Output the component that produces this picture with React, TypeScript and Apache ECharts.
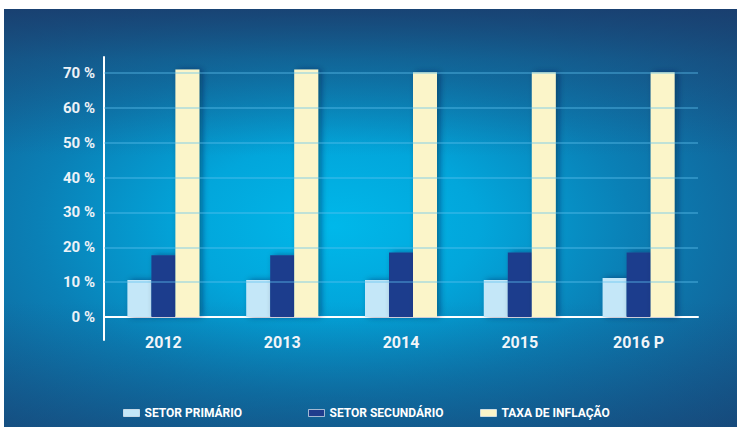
import React, { useEffect, useRef } from 'react';
import * as echarts from 'echarts';

const categories = ['2012', '2013', '2014', '2015', '2016 P'];
const seriesNames = ['SETOR PRIMÁRIO', 'SETOR SECUNDÁRIO', 'TAXA DE INFLAÇÃO'];
const setorPrimario = [10.6, 10.6, 10.6, 10.6, 11.2];
const setorSecundario = [17.7, 17.7, 18.5, 18.5, 18.5];
const taxaInflacao = [71.0, 71.0, 70.2, 70.2, 70.2];
const gridTicks = [10, 20, 30, 40, 50, 60, 70];

const seriesColors = ['#c4e7f8', '#1f3d8d', '#fbf5c9'];
const FONT = "Roboto, 'Liberation Sans', sans-serif";

export default function App() {
  const ref = useRef<HTMLDivElement>(null);
  useEffect(() => {
    document.body.style.margin = '0';
    const chart = echarts.init(ref.current!, null, { renderer: 'svg' });
    const values = [setorPrimario, setorSecundario, taxaInflacao];
    const legendLeft = [118, 303, 475];
    const option: any = {
      animation: false,
      backgroundColor: '#ffffff',
      graphic: [
        {
          type: 'rect',
          z: -10,
          silent: true,
          shape: { x: 4, y: 9, width: 733, height: 418 },
          style: {
            fill: new echarts.graphic.RadialGradient(0.45, 0.52, 0.9, [
              { offset: 0, color: '#00b8ea' },
              { offset: 0.22, color: '#02a6db' },
              { offset: 0.45, color: '#0a80b6' },
              { offset: 0.68, color: '#126398' },
              { offset: 1, color: '#1a3d6d' },
            ]),
          },
        },
        {
          type: 'rect',
          z: -9,
          silent: true,
          shape: { x: 4, y: 9, width: 733, height: 418 },
          style: {
            fill: new echarts.graphic.LinearGradient(0, 0, 0, 1, [
              { offset: 0, color: 'rgba(26,60,108,0.85)' },
              { offset: 0.12, color: 'rgba(26,66,112,0.45)' },
              { offset: 0.35, color: 'rgba(26,66,112,0)' },
              { offset: 0.7, color: 'rgba(20,70,120,0)' },
              { offset: 1, color: 'rgba(24,62,110,0.45)' },
            ]),
          },
        },
      ],
      grid: { left: 104, right: 39, top: 57, bottom: 88, containLabel: false },
      legend: seriesNames.map((n, i) => ({
        data: [n],
        left: legendLeft[i],
        top: 402,
        icon: 'rect',
        itemWidth: 16,
        itemHeight: 7,
        itemStyle: { borderColor: 'rgba(255,255,255,0.6)', borderWidth: 1 },
        textStyle: { color: '#ffffff', fontSize: 12, fontWeight: 'bold', fontFamily: FONT },
      })),
      xAxis: {
        type: 'category',
        data: categories,
        axisLine: { show: true, onZero: true, lineStyle: { color: '#ffffff', width: 2 } },
        axisTick: { show: false },
        axisLabel: { color: '#f2f5f9', fontSize: 16, fontWeight: 'bold', fontFamily: FONT, margin: -6 },
        splitLine: { show: false },
      },
      yAxis: {
        type: 'value',
        min: -6.6,
        max: 74.6,
        splitNumber: 8,
        axisLine: { show: true, lineStyle: { color: '#ffffff', width: 2 } },
        axisTick: { show: false },
        splitLine: { show: false },
        axisLabel: {
          color: '#eef2f7',
          fontSize: 15,
          fontWeight: 'bold',
          fontFamily: FONT,
          margin: 9,
          showMinLabel: false,
          showMaxLabel: false,
          formatter: (v: number) => {
            const r = Math.round(v);
            return Math.abs(v - r) < 1e-6 && r % 10 === 0 && r >= 0 && r <= 70 ? `${r} %` : '';
          },
        },
      },
      series: [
        {
          type: 'line',
          name: '__grid',
          data: [],
          z: 1,
          silent: true,
          markLine: {
            silent: true,
            symbol: 'none',
            label: { show: false },
            lineStyle: { color: 'rgba(95,195,240,0.5)', width: 1.5, type: 'solid' },
            data: gridTicks.map((v) => ({ yAxis: v })),
          },
        },
        ...seriesNames.map((n, i) => ({
          type: 'bar',
          name: n,
          data: values[i],
          barWidth: 24,
          barGap: '0%',
          z: 2,
          itemStyle: {
            color: seriesColors[i],
            shadowColor: 'rgba(0,20,60,0.45)',
            shadowBlur: 6,
            shadowOffsetX: 3,
          },
        })),
      ],
    };
    chart.setOption(option);
    return () => chart.dispose();
  }, []);
  return <div ref={ref} style={{ width: 737, height: 428 }} />;
}
